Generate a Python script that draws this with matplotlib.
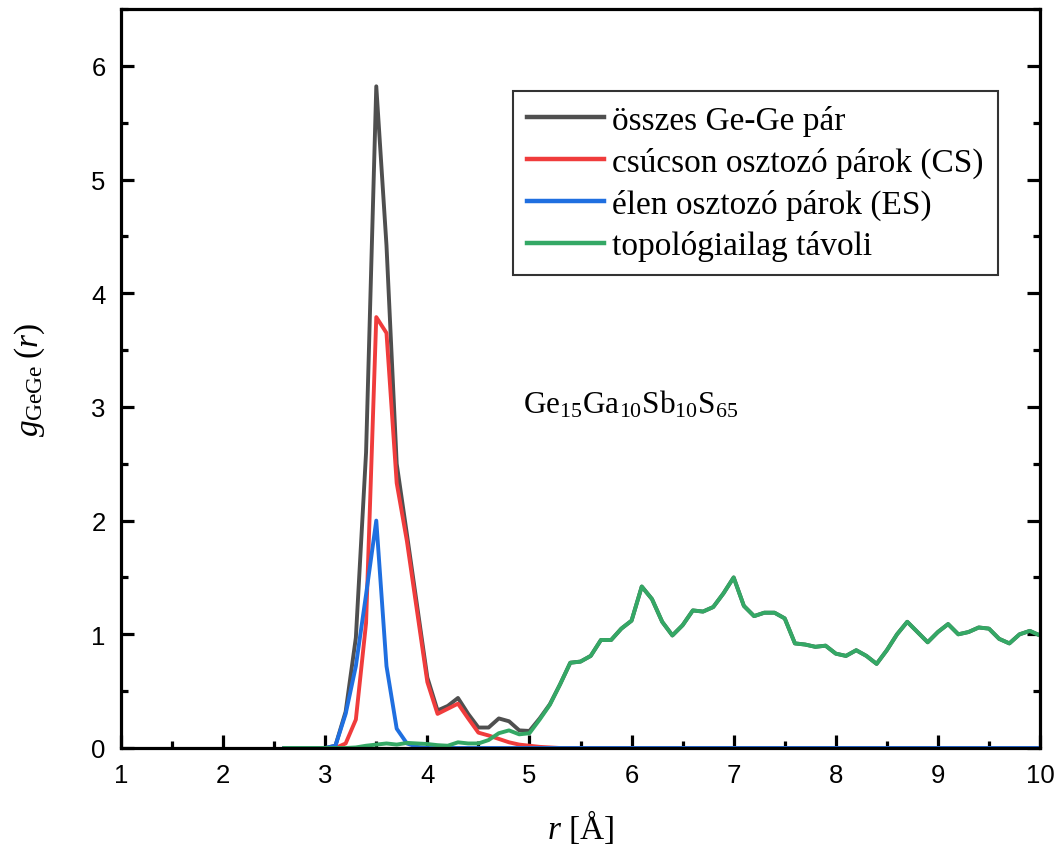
import numpy as np
import matplotlib
matplotlib.use('Agg')
import matplotlib.pyplot as plt
from matplotlib.ticker import MultipleLocator

plt.rcParams['font.family'] = 'Liberation Sans'
plt.rcParams['mathtext.fontset'] = 'custom'
plt.rcParams['mathtext.rm'] = 'Liberation Serif'
plt.rcParams['mathtext.it'] = 'Liberation Serif:italic'

# r grid (Angstrom), 2.6 ... 10.0 in 0.1 steps
r = [2.6, 2.7, 2.8, 2.9, 3.0, 3.1, 3.2, 3.3, 3.4, 3.5, 3.6, 3.7, 3.8, 3.9, 4.0,
     4.1, 4.2, 4.3, 4.4, 4.5, 4.6, 4.7, 4.8, 4.9, 5.0, 5.1, 5.2, 5.3, 5.4, 5.5,
     5.6, 5.7, 5.8, 5.9, 6.0, 6.1, 6.2, 6.3, 6.4, 6.5, 6.6, 6.7, 6.8, 6.9, 7.0,
     7.1, 7.2, 7.3, 7.4, 7.5, 7.6, 7.7, 7.8, 7.9, 8.0, 8.1, 8.2, 8.3, 8.4, 8.5,
     8.6, 8.7, 8.8, 8.9, 9.0, 9.1, 9.2, 9.3, 9.4, 9.5, 9.6, 9.7, 9.8, 9.9, 10.0]

# all Ge-Ge pairs
g_total = [0, 0, 0, 0, 0,
           0.02, 0.32, 0.97, 2.6, 5.82, 4.42, 2.5, 1.88, 1.25, 0.62,
           0.33, 0.37, 0.44, 0.3, 0.18, 0.18, 0.26, 0.235, 0.155, 0.15,
           0.26, 0.385, 0.56, 0.75, 0.76, 0.81, 0.95, 0.95, 1.05, 1.12,
           1.42, 1.31, 1.11, 0.99, 1.08, 1.21, 1.2, 1.24, 1.36, 1.5,
           1.25, 1.16, 1.19, 1.19, 1.14, 0.92, 0.91, 0.89, 0.9, 0.83,
           0.81, 0.86, 0.81, 0.74, 0.86, 1.0, 1.11, 1.02, 0.93, 1.02,
           1.09, 1.0, 1.02, 1.06, 1.05, 0.96, 0.92, 1.0, 1.03, 0.99]

# corner sharing (CS)
g_cs = [0, 0, 0, 0, 0,
        0, 0.04, 0.25, 1.1, 3.79, 3.65, 2.33, 1.82, 1.2, 0.58,
        0.3, 0.345, 0.39, 0.26, 0.135, 0.11, 0.08, 0.05, 0.03, 0.02,
        0.01, 0.005] + [0.0] * 48

# edge sharing (ES)
g_es = [0, 0, 0, 0, 0,
        0.02, 0.3, 0.72, 1.35, 2.0, 0.72, 0.17, 0.04, 0.01, 0] + [0.0] * 60

# topologically distant
g_far = [0, 0, 0, 0, 0, 0, 0, 0.005,
         0.02, 0.03, 0.04, 0.03, 0.045, 0.04, 0.035,
         0.025, 0.02, 0.05, 0.04, 0.04, 0.07, 0.13, 0.155, 0.12, 0.13,
         0.25, 0.38, 0.56, 0.75, 0.76, 0.81, 0.95, 0.95, 1.05, 1.12,
         1.42, 1.31, 1.11, 0.99, 1.08, 1.21, 1.2, 1.24, 1.36, 1.5,
         1.25, 1.16, 1.19, 1.19, 1.14, 0.92, 0.91, 0.89, 0.9, 0.83,
         0.81, 0.86, 0.81, 0.74, 0.86, 1.0, 1.11, 1.02, 0.93, 1.02,
         1.09, 1.0, 1.02, 1.06, 1.05, 0.96, 0.92, 1.0, 1.03, 0.99]

labels = ['összes Ge-Ge pár', 'csúcson osztozó párok (CS)',
          'élen osztozó párok (ES)', 'topológiailag távoli']
colors = ['#4f4f4f', '#f03c3c', '#1f6fe0', '#34a865']

fig = plt.figure(figsize=(10.57, 8.53), dpi=100)
ax = fig.add_axes([121 / 1057, 1 - 749 / 853, (1040 - 121) / 1057, (749 - 10) / 853])

lw = 2.8
for y, lab, c in zip([g_total, g_cs, g_es, g_far], labels, colors):
    ax.plot(r, y, color=c, lw=lw, label=lab)

ax.set_xlim(1, 10)
ax.set_ylim(0, 6.5)
ax.xaxis.set_major_locator(MultipleLocator(1))
ax.xaxis.set_minor_locator(MultipleLocator(0.5))
ax.yaxis.set_major_locator(MultipleLocator(1))
ax.yaxis.set_minor_locator(MultipleLocator(0.5))
ax.tick_params(which='both', direction='in', width=2.3, right=True, top=False,
               labelsize=18.5, pad=11)
ax.tick_params(which='major', length=9.5)
ax.tick_params(which='minor', length=5)
for s in ax.spines.values():
    s.set_linewidth(2.3)

ax.set_xlabel(r'$r$ [Å]', family='Liberation Serif', fontsize=24, labelpad=14)
ax.set_ylabel(r'$g_{\mathrm{GeGe}}\;(r)$', family='Liberation Serif', fontsize=24, labelpad=32)

ax.text(4.94, 2.955, r'$\mathrm{Ge}_{15}\mathrm{Ga}_{10}\mathrm{Sb}_{10}\mathrm{S}_{65}$',
        fontsize=22.5, va='baseline', ha='left')

leg = ax.legend(loc='upper left', bbox_to_anchor=(513 / 1057, 1 - 92 / 853),
                bbox_transform=fig.transFigure, prop={'family': 'Liberation Serif', 'size': 24},
                fancybox=False, frameon=True, borderpad=0.42, labelspacing=0.32,
                handlelength=2.3, handletextpad=0.25, borderaxespad=0)
leg.get_frame().set_edgecolor('black')
leg.get_frame().set_linewidth(1.5)
for h in leg.get_lines():
    h.set_linewidth(3.2)

fig.savefig('out.png', dpi=100)
